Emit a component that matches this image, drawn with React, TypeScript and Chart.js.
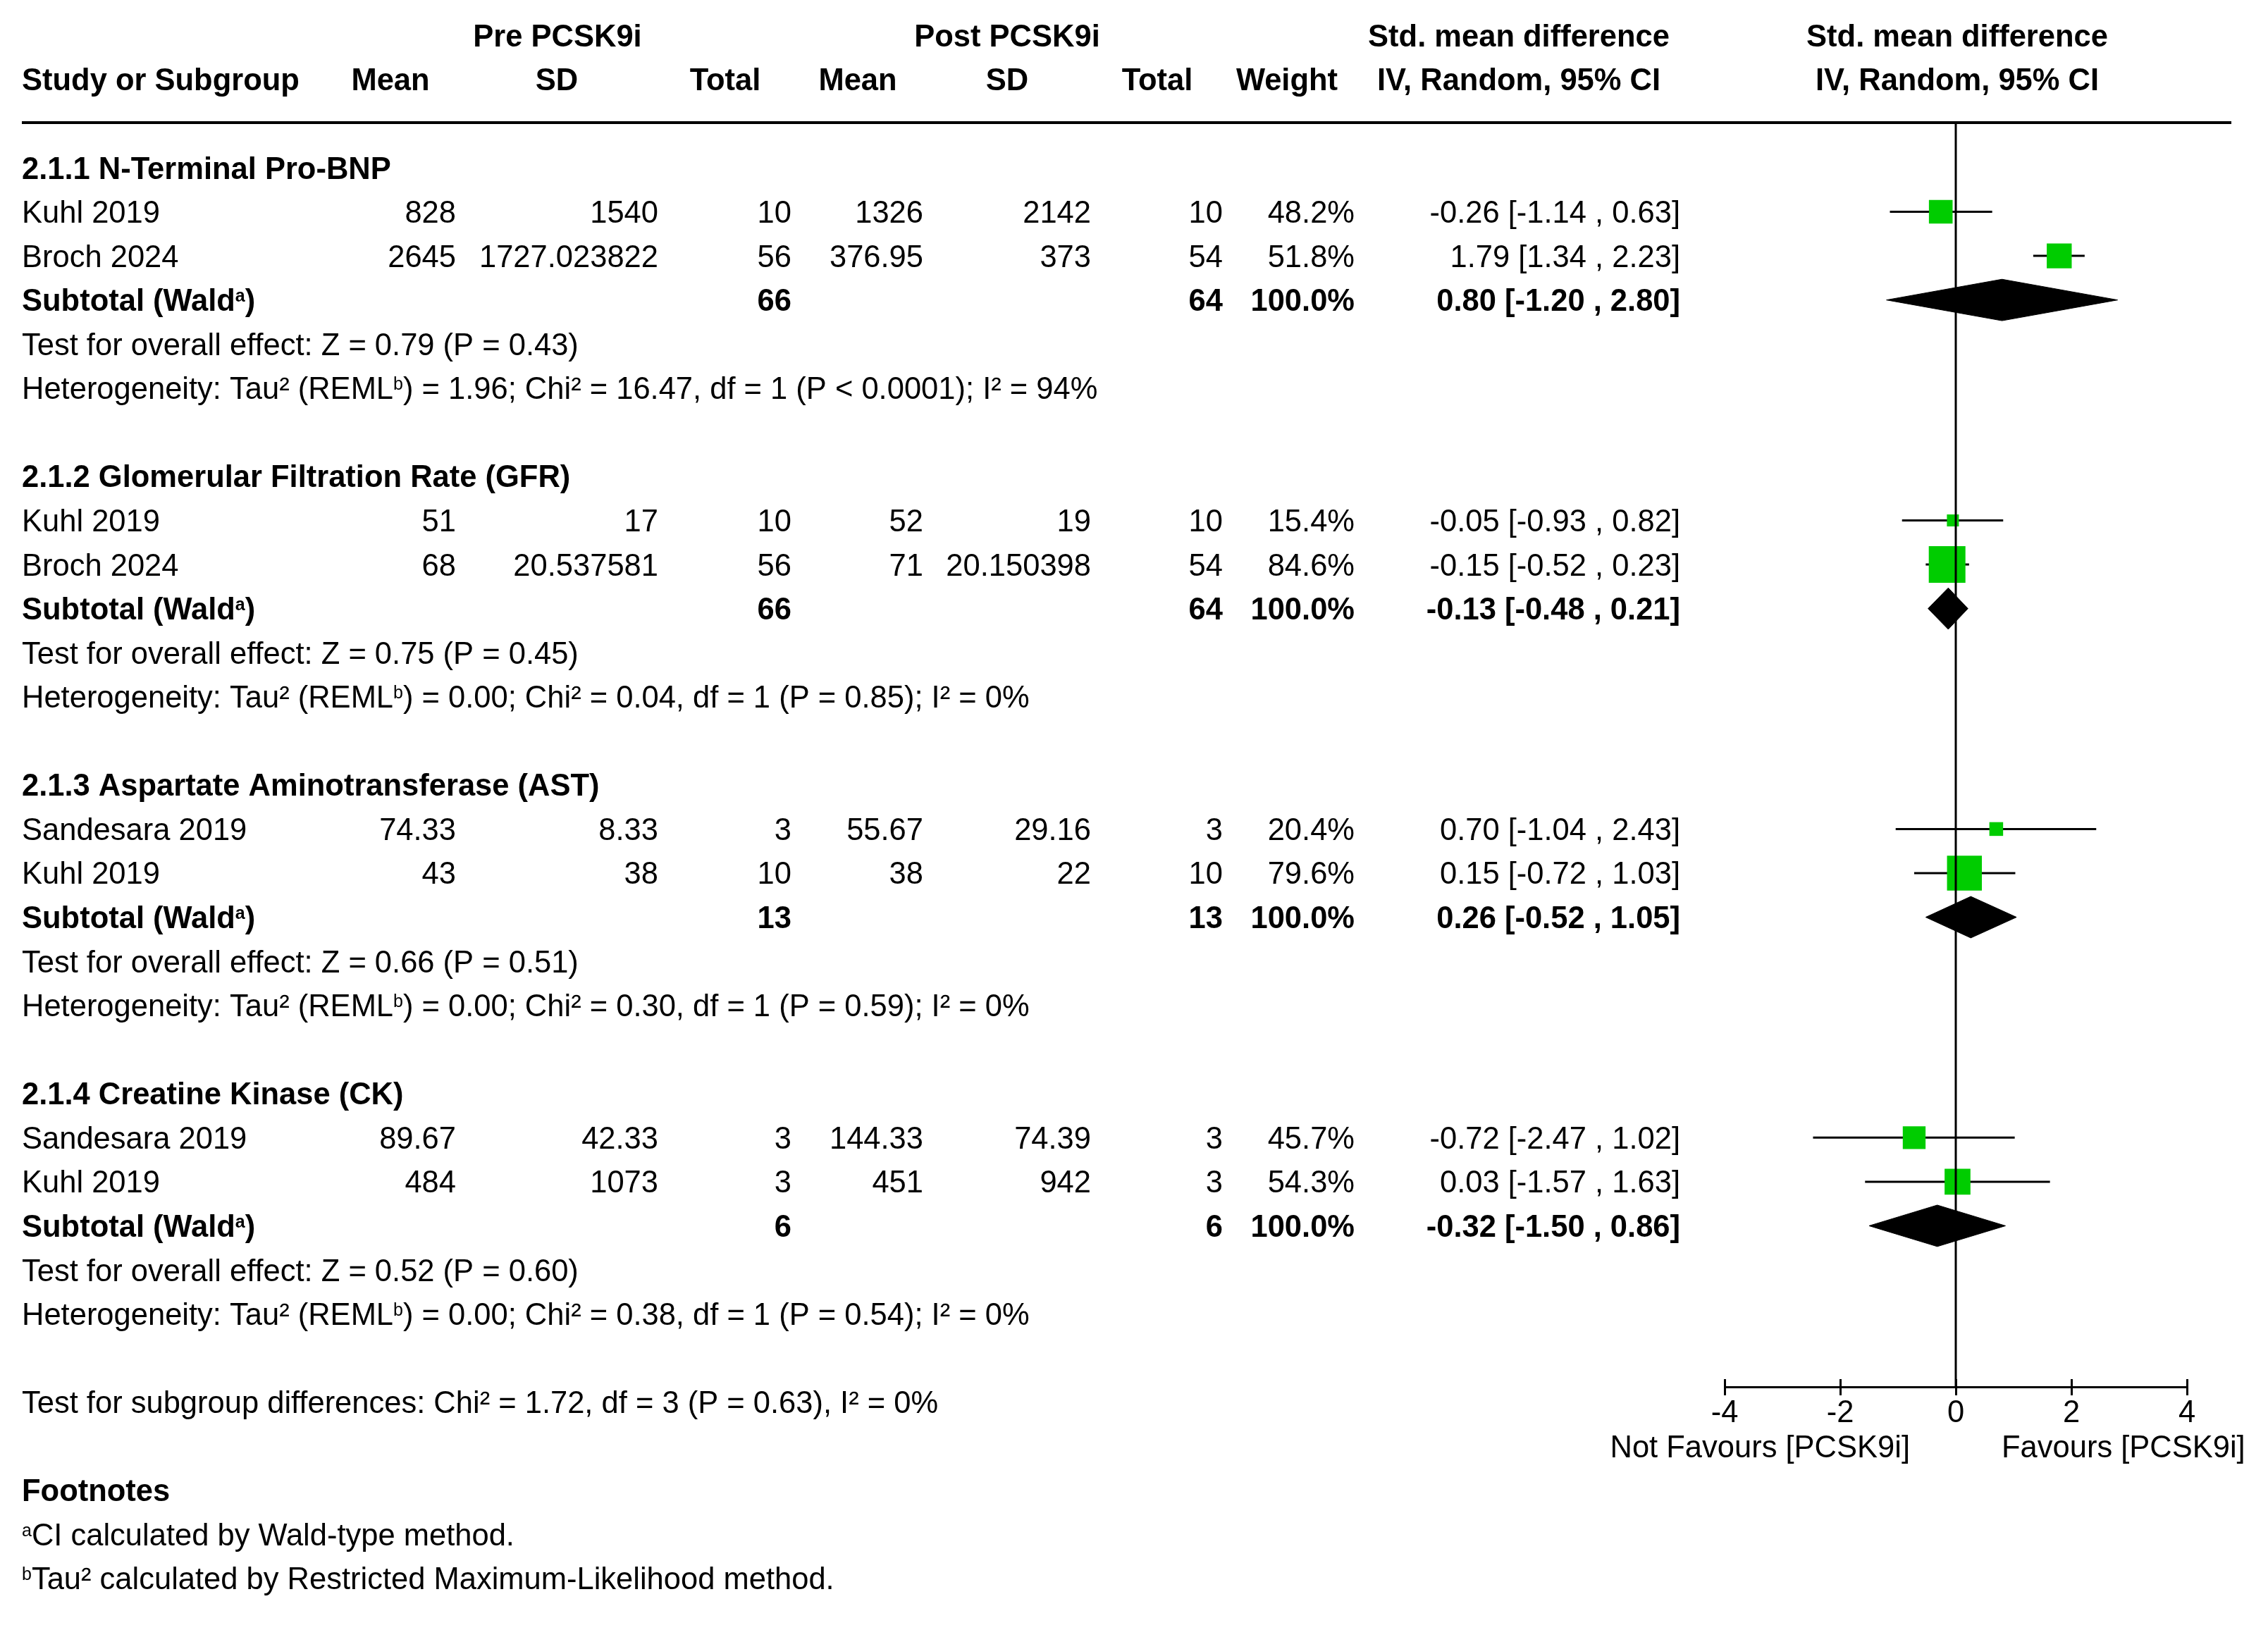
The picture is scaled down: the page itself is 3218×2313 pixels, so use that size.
import React, { useEffect, useRef } from "react";
import { Chart, registerables } from "chart.js";

Chart.register(...registerables);

// ---------------- DATA ----------------
const subgroupTitles = [
  "2.1.1 N-Terminal Pro-BNP",
  "2.1.2 Glomerular Filtration Rate (GFR)",
  "2.1.3 Aspartate Aminotransferase (AST)",
  "2.1.4 Creatine Kinase (CK)",
];
const studyNames = [
  "Kuhl 2019", "Broch 2024",
  "Kuhl 2019", "Broch 2024",
  "Sandesara 2019", "Kuhl 2019",
  "Sandesara 2019", "Kuhl 2019",
];
const studyGroup = [0, 0, 1, 1, 2, 2, 3, 3];
const preMean = [828, 2645, 51, 68, 74.33, 43, 89.67, 484];
const preSD = [1540, 1727.023822, 17, 20.537581, 8.33, 38, 42.33, 1073];
const preN = [10, 56, 10, 56, 3, 10, 3, 3];
const postMean = [1326, 376.95, 52, 71, 55.67, 38, 144.33, 451];
const postSD = [2142, 373, 19, 20.150398, 29.16, 22, 74.39, 942];
const postN = [10, 54, 10, 54, 3, 10, 3, 3];
const studyWeight = [48.2, 51.8, 15.4, 84.6, 20.4, 79.6, 45.7, 54.3];
const studySMD = [-0.26, 1.79, -0.05, -0.15, 0.7, 0.15, -0.72, 0.03];
const studyLo = [-1.14, 1.34, -0.93, -0.52, -1.04, -0.72, -2.47, -1.57];
const studyHi = [0.63, 2.23, 0.82, 0.23, 2.43, 1.03, 1.02, 1.63];

const subPreN = [66, 66, 13, 6];
const subPostN = [64, 64, 13, 6];
const subSMD = [0.8, -0.13, 0.26, -0.32];
const subLo = [-1.2, -0.48, -0.52, -1.5];
const subHi = [2.8, 0.21, 1.05, 0.86];
const overallZ = [0.79, 0.75, 0.66, 0.52];
const overallP = [0.43, 0.45, 0.51, 0.6];
const hetTau2 = [1.96, 0.0, 0.0, 0.0];
const hetChi2 = [16.47, 0.04, 0.3, 0.38];
const hetDf = [1, 1, 1, 1];
const hetP = ["< 0.0001", "= 0.85", "= 0.59", "= 0.54"];
const hetI2 = [94, 0, 0, 0];

const subgroupDiffText = "Test for subgroup differences: Chi² = 1.72, df = 3 (P = 0.63), I² = 0%";
const xTickValues = [-4, -2, 0, 2, 4];
const leftFavours = "Not Favours [PCSK9i]";
const rightFavours = "Favours [PCSK9i]";

// ---------------- LAYOUT / STYLE ----------------
const W = 3218;
const H = 2313;
const FAMILY = '"Liberation Sans", Arial, Helvetica, sans-serif';
const FS = 43.5;
const SUP_FS = 25;
const SUP_RISE = 13;
const BASE_OFF = 15.5;
const PLOT_LEFT = 2447;
const PLOT_RIGHT = 3103;
const PLOT_TOP = 174;
const PLOT_BOTTOM = 1968;
const ROW0 = 238;
const PITCH = 62.56;
const Y_MIN = -(ROW0 - PLOT_TOP) / PITCH;
const Y_MAX = Y_MIN + (PLOT_BOTTOM - PLOT_TOP) / PITCH;
const AXIS_H = 100;
const GREEN = "#00cc00";
const DIAMOND_HALF = 0.47;

const LEFT_X = 31;
const colPreMean = 647;
const colPreSD = 934;
const colPreN = 1123;
const colPostMean = 1310;
const colPostSD = 1548;
const colPostN = 1735;
const colWeight = 1922;
const colCI = 2384;

// row assignment
const groupHeaderRow: number[] = [];
const studyRow: number[] = [];
const subRow: number[] = [];
const testRow: number[] = [];
const hetRow: number[] = [];
let rr = 0;
for (let g = 0; g < subgroupTitles.length; g++) {
  groupHeaderRow[g] = rr++;
  for (let i = 0; i < studyNames.length; i++) {
    if (studyGroup[i] === g) studyRow[i] = rr++;
  }
  subRow[g] = rr++;
  testRow[g] = rr++;
  hetRow[g] = rr++;
  rr++;
}
const subgroupDiffRow = rr;
const footRow = rr + 2;

const f2 = (v: number) => v.toFixed(2);
const ciText = (e: number, l: number, h: number) => `${f2(e)} [${f2(l)} , ${f2(h)}]`;

type Seg = { t: string; sup?: boolean };

function drawSegs(ctx: CanvasRenderingContext2D, x: number, y: number, segs: Seg[], weight: string) {
  let cx = x;
  ctx.textAlign = "left";
  for (const s of segs) {
    if (s.sup) {
      ctx.font = `${weight} ${SUP_FS}px ${FAMILY}`;
      ctx.fillText(s.t, cx, y - SUP_RISE);
    } else {
      ctx.font = `${weight} ${FS}px ${FAMILY}`;
      ctx.fillText(s.t, cx, y);
    }
    cx += ctx.measureText(s.t).width;
  }
}

function txt(ctx: CanvasRenderingContext2D, s: string, x: number, y: number, align: CanvasTextAlign, bold: boolean) {
  ctx.font = `${bold ? "bold" : "normal"} ${FS}px ${FAMILY}`;
  ctx.textAlign = align;
  ctx.fillText(s, x, y);
}

const tablePlugin = {
  id: "forestTable",
  afterDraw(chart: any) {
    const ctx: CanvasRenderingContext2D = chart.ctx;
    const ys = chart.scales.y;
    const xs = chart.scales.x;
    const area = chart.chartArea;
    const rowY = (r: number) => ys.getPixelForValue(r) + BASE_OFF;
    ctx.save();
    ctx.fillStyle = "#000";
    ctx.strokeStyle = "#000";
    ctx.textBaseline = "alphabetic";

    // top rule
    ctx.lineWidth = 4;
    ctx.beginPath();
    ctx.moveTo(LEFT_X, area.top);
    ctx.lineTo(3166, area.top);
    ctx.stroke();

    // upward halves of axis ticks
    ctx.lineWidth = 3;
    for (const v of xTickValues) {
      const px = Math.round(xs.getPixelForValue(v)) + 0.5;
      ctx.beginPath();
      ctx.moveTo(px, area.bottom);
      ctx.lineTo(px, area.bottom - 11);
      ctx.stroke();
    }

    // headers
    const h1 = rowY(-3);
    const h2 = rowY(-2);
    txt(ctx, "Pre PCSK9i", 791, h1, "center", true);
    txt(ctx, "Post PCSK9i", 1429, h1, "center", true);
    txt(ctx, "Std. mean difference", 2155, h1, "center", true);
    txt(ctx, "Std. mean difference", 2777, h1, "center", true);
    txt(ctx, "Study or Subgroup", LEFT_X, h2, "left", true);
    txt(ctx, "Mean", 554, h2, "center", true);
    txt(ctx, "SD", 790, h2, "center", true);
    txt(ctx, "Total", 1029, h2, "center", true);
    txt(ctx, "Mean", 1217, h2, "center", true);
    txt(ctx, "SD", 1429, h2, "center", true);
    txt(ctx, "Total", 1642, h2, "center", true);
    txt(ctx, "Weight", 1826, h2, "center", true);
    txt(ctx, "IV, Random, 95% CI", 2155, h2, "center", true);
    txt(ctx, "IV, Random, 95% CI", 2777, h2, "center", true);

    for (let g = 0; g < subgroupTitles.length; g++) {
      txt(ctx, subgroupTitles[g], LEFT_X, rowY(groupHeaderRow[g]), "left", true);
      const sy = rowY(subRow[g]);
      drawSegs(ctx, LEFT_X, sy, [{ t: "Subtotal (Wald" }, { t: "a", sup: true }, { t: ")" }], "bold");
      txt(ctx, String(subPreN[g]), colPreN, sy, "right", true);
      txt(ctx, String(subPostN[g]), colPostN, sy, "right", true);
      txt(ctx, "100.0%", colWeight, sy, "right", true);
      txt(ctx, ciText(subSMD[g], subLo[g], subHi[g]), colCI, sy, "right", true);
      txt(
        ctx,
        `Test for overall effect: Z = ${f2(overallZ[g])} (P = ${f2(overallP[g])})`,
        LEFT_X,
        rowY(testRow[g]),
        "left",
        false
      );
      drawSegs(
        ctx,
        LEFT_X,
        rowY(hetRow[g]),
        [
          { t: "Heterogeneity: Tau² (REML" },
          { t: "b", sup: true },
          {
            t: `) = ${f2(hetTau2[g])}; Chi² = ${f2(hetChi2[g])}, df = ${hetDf[g]} (P ${hetP[g]}); I² = ${hetI2[g]}%`,
          },
        ],
        "normal"
      );
    }

    for (let i = 0; i < studyNames.length; i++) {
      const y = rowY(studyRow[i]);
      txt(ctx, studyNames[i], LEFT_X, y, "left", false);
      txt(ctx, String(preMean[i]), colPreMean, y, "right", false);
      txt(ctx, String(preSD[i]), colPreSD, y, "right", false);
      txt(ctx, String(preN[i]), colPreN, y, "right", false);
      txt(ctx, String(postMean[i]), colPostMean, y, "right", false);
      txt(ctx, String(postSD[i]), colPostSD, y, "right", false);
      txt(ctx, String(postN[i]), colPostN, y, "right", false);
      txt(ctx, studyWeight[i].toFixed(1) + "%", colWeight, y, "right", false);
      txt(ctx, ciText(studySMD[i], studyLo[i], studyHi[i]), colCI, y, "right", false);
    }

    txt(ctx, subgroupDiffText, LEFT_X, rowY(subgroupDiffRow), "left", false);
    txt(ctx, "Footnotes", LEFT_X, rowY(footRow), "left", true);
    drawSegs(ctx, LEFT_X, rowY(footRow + 1), [{ t: "a", sup: true }, { t: "CI calculated by Wald-type method." }], "normal");
    drawSegs(
      ctx,
      LEFT_X,
      rowY(footRow + 2),
      [{ t: "b", sup: true }, { t: "Tau² calculated by Restricted Maximum-Likelihood method." }],
      "normal"
    );

    // favours labels
    const x0 = xs.getPixelForValue(0);
    const fy = rowY(subgroupDiffRow + 1);
    txt(ctx, leftFavours, x0 - 65, fy, "right", false);
    txt(ctx, rightFavours, x0 + 65, fy, "left", false);

    ctx.restore();
  },
};

export default function App() {
  const ref = useRef<HTMLCanvasElement | null>(null);
  useEffect(() => {
    if (!ref.current) return;
    const datasets: any[] = [];

    // zero line (on top)
    datasets.push({
      type: "scatter",
      data: [
        { x: 0, y: Y_MIN },
        { x: 0, y: Y_MAX },
      ],
      showLine: true,
      borderColor: "#000",
      borderWidth: 3,
      pointRadius: 0,
      order: 0,
    });

    // diamonds
    for (let g = 0; g < subgroupTitles.length; g++) {
      const r = subRow[g];
      datasets.push({
        type: "scatter",
        data: [
          { x: subLo[g], y: r },
          { x: subSMD[g], y: r - DIAMOND_HALF },
          { x: subHi[g], y: r },
          { x: subSMD[g], y: r + DIAMOND_HALF },
          { x: subLo[g], y: r },
        ],
        showLine: true,
        fill: "shape",
        backgroundColor: "#000",
        borderColor: "#000",
        borderWidth: 1,
        pointRadius: 0,
        tension: 0,
        order: 1,
      });
    }

    // squares
    datasets.push({
      type: "scatter",
      data: studyNames.map((_, i) => ({ x: studySMD[i], y: studyRow[i] })),
      pointStyle: "rect",
      pointRadius: studyWeight.map((w) => (9.2 + 0.506 * w) / Math.SQRT2),
      backgroundColor: GREEN,
      borderColor: GREEN,
      borderWidth: 0,
      order: 2,
    });

    // CI lines
    for (let i = 0; i < studyNames.length; i++) {
      datasets.push({
        type: "scatter",
        data: [
          { x: studyLo[i], y: studyRow[i] },
          { x: studyHi[i], y: studyRow[i] },
        ],
        showLine: true,
        borderColor: "#000",
        borderWidth: 3,
        pointRadius: 0,
        order: 3,
      });
    }

    const chart = new Chart(ref.current, {
      type: "scatter",
      data: { datasets },
      options: {
        animation: false,
        responsive: false,
        devicePixelRatio: 1,
        events: [],
        layout: {
          padding: {
            left: PLOT_LEFT,
            right: W - PLOT_RIGHT,
            top: PLOT_TOP,
            bottom: H - PLOT_BOTTOM - AXIS_H,
          },
        },
        plugins: {
          legend: { display: false },
          tooltip: { enabled: false },
          filler: { propagate: false },
        },
        scales: {
          x: {
            type: "linear",
            position: "bottom",
            min: -4,
            max: 4,
            afterBuildTicks: (s: any) => {
              s.ticks = xTickValues.map((v) => ({ value: v }));
            },
            afterFit: (s: any) => {
              s.height = AXIS_H;
            },
            ticks: {
              color: "#000",
              font: { family: FAMILY, size: FS },
              padding: 0,
              maxRotation: 0,
              autoSkip: false,
              callback: (v: any) => String(v),
            },
            grid: {
              drawOnChartArea: false,
              drawTicks: true,
              tickLength: 12,
              lineWidth: 3,
              color: "#000",
            },
            border: { display: true, color: "#000", width: 3 },
          },
          y: {
            type: "linear",
            display: false,
            reverse: true,
            min: Y_MIN,
            max: Y_MAX,
          },
        },
      } as any,
      plugins: [tablePlugin],
    });
    return () => chart.destroy();
  }, []);

  return (
    <div style={{ position: "absolute", left: 0, top: 0, width: W, height: H, background: "#fff" }}>
      <canvas ref={ref} width={W} height={H} style={{ width: W, height: H, display: "block" }} />
    </div>
  );
}
